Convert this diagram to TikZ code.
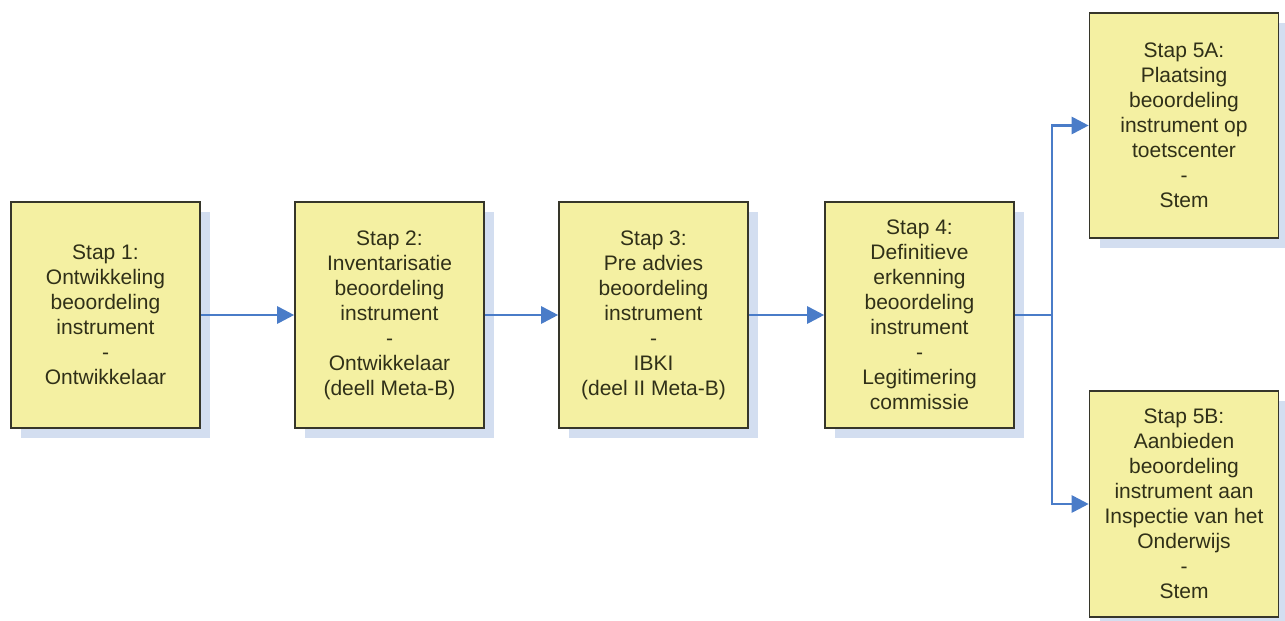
\documentclass[tikz,border=0pt]{standalone}
\usepackage{fontspec}
\setmainfont{Liberation Sans}
\usetikzlibrary{arrows.meta,shadows}
\definecolor{boxfill}{HTML}{F4F0A2}
\definecolor{boxline}{HTML}{36362A}
\definecolor{boxtext}{HTML}{303018}
\definecolor{shade}{HTML}{D3DEF0}
\definecolor{arrowblue}{HTML}{4A7CC8}
\begin{document}
\begin{tikzpicture}[x=1pt,y=-1pt,
  stepbox/.style={draw=boxline, line width=1.6pt, fill=boxfill, rectangle,
    minimum width=189pt, minimum height=226pt, inner sep=0pt,
    align=center, text=boxtext,
    font=\fontsize{21}{25}\selectfont,
    drop shadow={shadow xshift=10pt, shadow yshift=-10pt, fill=shade, opacity=1}},
  flow/.style={draw=arrowblue, line width=2.8pt,
    -{Triangle[length=17pt,width=17pt]}}]
\useasboundingbox (0,0) rectangle (1285,621);
\node[stepbox] (b1) at (105.5,315) {Stap 1:\\Ontwikkeling\\beoordeling\\instrument\\-\\Ontwikkelaar};
\node[stepbox] (b2) at (389.5,315) {Stap 2:\\Inventarisatie\\beoordeling\\instrument\\-\\Ontwikkelaar\\(deell Meta-B)};
\node[stepbox] (b3) at (653.5,315) {Stap 3:\\Pre advies\\beoordeling\\instrument\\-\\IBKI\\(deel II Meta-B)};
\node[stepbox] (b4) at (919.5,315) {Stap 4:\\Definitieve\\erkenning\\beoordeling\\instrument\\-\\Legitimering\\commissie};
\node[stepbox, minimum height=225pt] (b5a) at (1184,125.5) {Stap 5A:\\Plaatsing\\beoordeling\\instrument op\\toetscenter\\-\\Stem};
\node[stepbox] (b5b) at (1184,504) {Stap 5B:\\Aanbieden\\beoordeling\\instrument aan\\Inspectie van het\\Onderwijs\\-\\Stem};
\coordinate (split) at (1052,315);
\draw[flow] (b1.east) -- (b2.west);
\draw[flow] (b2.east) -- (b3.west);
\draw[flow] (b3.east) -- (b4.west);
\draw[flow] (b4.east) -- (split) |- (b5a.west);
\draw[flow] (split) |- (b5b.west);
\end{tikzpicture}
\end{document}
